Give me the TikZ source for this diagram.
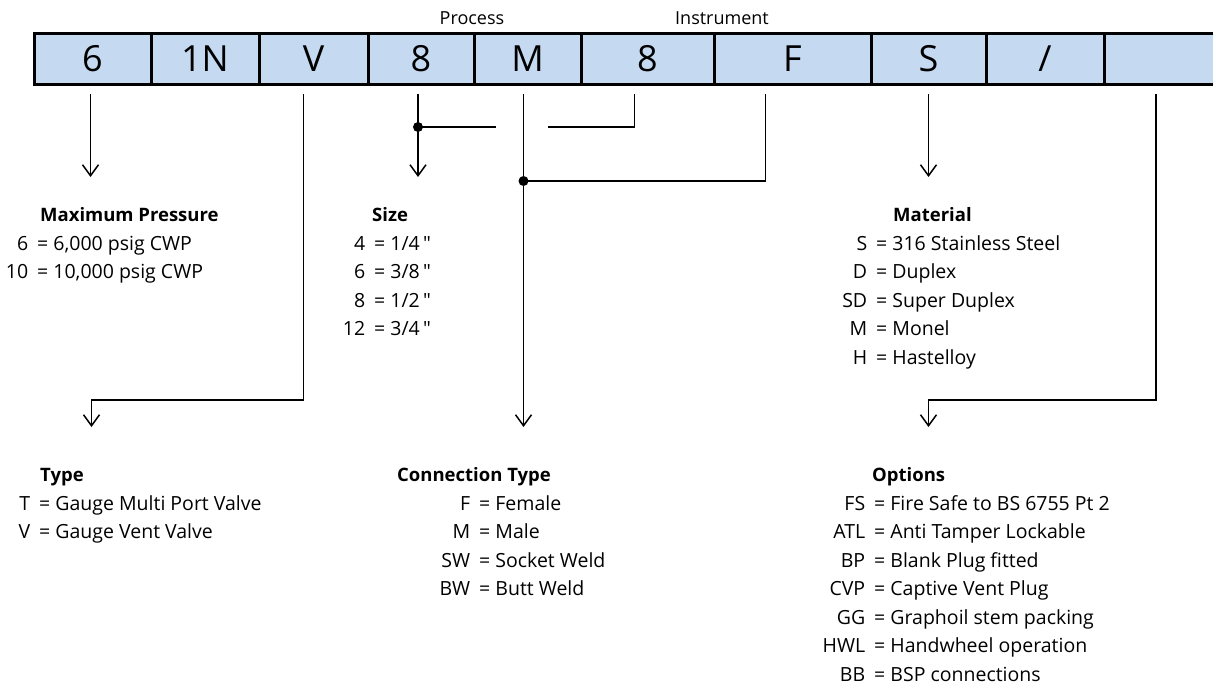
\documentclass[tikz,border=0pt]{standalone}
\usepackage{fontspec}
\setmainfont{Open Sans}
\usetikzlibrary{positioning,arrows.meta}

\definecolor{cellblue}{RGB}{197,217,241}

\begin{document}
\begin{tikzpicture}[x=1pt, y=-1pt,
    cell/.style={rectangle, draw, fill=cellblue, line width=3pt, outer sep=0pt, inner sep=0pt, minimum height=51pt, font=\fontsize{36}{40}\selectfont},
    head/.style={anchor=base west, inner sep=0pt, font=\fontsize{18.5}{22}\selectfont\bfseries},
    item/.style={anchor=base west, inner sep=0pt, font=\fontsize{19.5}{23}\selectfont},
    tag/.style={inner sep=0pt, font=\fontsize{18}{21}\selectfont},
    arr/.style={line width=1.5pt, -{Straight Barb[length=11pt, width=16pt, line width=1.5pt]}},
    link/.style={line width=1.5pt}]
    \useasboundingbox (0,0) rectangle (1213,686);

    % Code boxes
    \node[cell, minimum width=117pt, anchor=north west] (code-press) at (34,33) {6};
    \node[cell, minimum width=108pt, right=0pt of code-press] (code-series) {1N};
    \node[cell, minimum width=109pt, right=0pt of code-series] (code-type) {V};
    \node[cell, minimum width=106pt, right=0pt of code-type] (code-psize) {8};
    \node[cell, minimum width=107pt, right=0pt of code-psize] (code-pconn) {M};
    \node[cell, minimum width=133pt, right=0pt of code-pconn] (code-isize) {8};
    \node[cell, minimum width=157pt, right=0pt of code-isize] (code-iconn) {F};
    \node[cell, minimum width=115pt, right=0pt of code-iconn] (code-mat) {S};
    \node[cell, minimum width=118pt, right=0pt of code-mat] (code-slash) {/};
    \node[cell, minimum width=112pt, right=0pt of code-slash] (code-opt) {};

    % Group labels
    \node[tag, above=8pt of code-psize.north east, xshift=-2pt] (proc-tag) {Process};
    \node[tag, above=8pt of code-isize.north east, xshift=8pt] (inst-tag) {Instrument};

    % Rows for the arrow ends
    \coordinate (row-top) at (0,177);
    \coordinate (row-low) at (0,427);
    \coordinate (bend) at (0,400);
    \coordinate (size-jog) at (0,127);
    \coordinate (conn-jog) at (0,181);

    % Connectors
    \draw[arr, shorten <=10pt] ([xshift=-2pt]code-press.south) -- ([xshift=-2pt]code-press.south |- row-top);
    \draw[arr, shorten <=10pt] ([xshift=-3pt]code-psize.south) -- ([xshift=-3pt]code-psize.south |- row-top);
    \draw[arr, shorten <=10pt] (code-mat.south) -- (code-mat.south |- row-top);
    \draw[link, shorten <=10pt] ([xshift=-13pt]code-isize.south) |- ([xshift=20pt]code-pconn.south |- size-jog);
    \draw[link] ([xshift=-32pt]code-pconn.south |- size-jog) -- ([xshift=-3pt]code-psize.south |- size-jog);
    \fill ([xshift=-3pt]code-psize.south |- size-jog) circle (5pt);
    \draw[arr, shorten <=10pt] ([xshift=-4pt]code-pconn.south) -- ([xshift=-4pt]code-pconn.south |- row-low);
    \draw[link, shorten <=10pt] ([xshift=-27pt]code-iconn.south) |- ([xshift=-4pt]code-pconn.south |- conn-jog);
    \fill ([xshift=-4pt]code-pconn.south |- conn-jog) circle (5pt);
    \draw[arr, shorten <=10pt] ([xshift=-10pt]code-type.south) |- ([xshift=-1pt]code-press.south |- bend) -- ([xshift=-1pt]code-press.south |- row-low);
    \draw[arr, shorten <=10pt] ([xshift=-4pt]code-opt.south) |- (code-mat.south |- bend) -- (code-mat.south |- row-low);

    % Titles
    \node[head] (press-head) at (40,221) {Maximum Pressure};
    \node[head] (size-head) at (372,221) {Size};
    \node[head] (mat-head) at (893,221) {Material};
    \node[head] (type-head) at (40,481) {Type};
    \node[head] (conn-head) at (397,481) {Connection Type};
    \node[head] (opt-head) at (872,481) {Options};

    % Code lists
    \foreach \code/\val [count=\i] in {6/{6,000 psig CWP}, 10/{10,000 psig CWP}}
        \node[item] (press-\i) at (37,{250+28.5*(\i-1)}) {\llap{\code\hspace{9pt}}=\ \val};
    \foreach \code/\val [count=\i] in {4/{1/4\,\textquotedbl}, 6/{3/8\,\textquotedbl}, 8/{1/2\,\textquotedbl}, 12/{3/4\,\textquotedbl}}
        \node[item] (size-\i) at (374,{250+28.5*(\i-1)}) {\llap{\code\hspace{9pt}}=\ \val};
    \foreach \code/\val [count=\i] in {S/316 Stainless Steel, D/Duplex, SD/Super Duplex, M/Monel, H/Hastelloy}
        \node[item] (mat-\i) at (876,{250+28.5*(\i-1)}) {\llap{\code\hspace{9pt}}=\ \val};
    \foreach \code/\val [count=\i] in {T/Gauge Multi Port Valve, V/Gauge Vent Valve}
        \node[item] (type-\i) at (39,{510+28.5*(\i-1)}) {\llap{\code\hspace{9pt}}=\ \val};
    \foreach \code/\val [count=\i] in {F/Female, M/Male, SW/Socket Weld, BW/Butt Weld}
        \node[item] (conn-\i) at (479,{510+28.5*(\i-1)}) {\llap{\code\hspace{9pt}}=\ \val};
    \foreach \code/\val [count=\i] in {FS/Fire Safe to BS 6755 Pt 2, ATL/Anti Tamper Lockable, BP/Blank Plug fitted, CVP/Captive Vent Plug, GG/Graphoil stem packing, HWL/Handwheel operation, BB/BSP connections}
        \node[item] (opt-\i) at (874,{510+28.5*(\i-1)}) {\llap{\code\hspace{9pt}}=\ \val};
\end{tikzpicture}
\end{document}
